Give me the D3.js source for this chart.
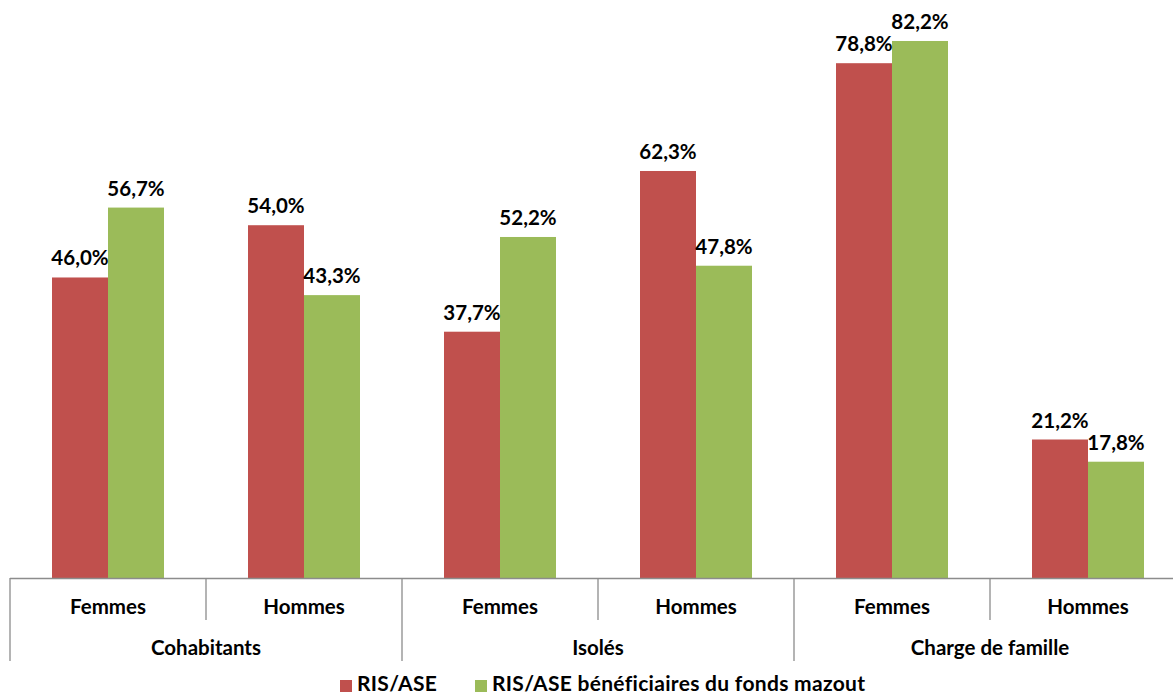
<!DOCTYPE html>
<html><head><meta charset="utf-8">
<script src="https://cdn.jsdelivr.net/npm/d3@7"></script>
<style>body{margin:0;background:#fff;} svg{display:block;}</style>
</head><body>
<svg id="c" width="1173" height="696"></svg>
<script>
const groups = ["Cohabitants", "Isolés", "Charge de famille"];
const subs = ["Femmes", "Hommes"];
const seriesNames = ["RIS/ASE", "RIS/ASE bénéficiaires du fonds mazout"];
const risAse = [46.0, 54.0, 37.7, 62.3, 78.8, 21.2];
const mazout = [56.7, 43.3, 52.2, 47.8, 82.2, 17.8];
const colors = ["#C0504D", "#9BBB59"];

const svg = d3.select("#c");
const font = "Lato, 'Open Sans', sans-serif";
const fw = "bold";
const fs = 20.5;
const base = 578;
const x0 = d3.scaleBand().domain(groups).range([10, 1186]);
const x1 = d3.scaleBand().domain(subs).range([0, x0.bandwidth()]);
const x2 = d3.scaleBand().domain([0, 1]).range([0, x1.bandwidth()]).paddingInner(0).paddingOuter(0.75);
const y = d3.scaleLinear().domain([0, 90]).range([base, base - 90 * 6.533]);

const rows = [];
groups.forEach((g, gi) => subs.forEach((s, si) => {
  const i = gi * 2 + si;
  [risAse[i], mazout[i]].forEach((v, k) => rows.push({g, s, k, v}));
}));

const bx = d => x0(d.g) + x1(d.s) + x2(d.k);
svg.selectAll("rect.bar").data(rows).join("rect").attr("class", "bar")
  .attr("x", bx).attr("width", x2.bandwidth())
  .attr("y", d => y(d.v)).attr("height", d => base - y(d.v))
  .attr("fill", d => colors[d.k]);

svg.selectAll("text.lbl").data(rows).join("text").attr("class", "lbl")
  .attr("x", d => bx(d) + x2.bandwidth() / 2).attr("y", d => y(d.v) - 12)
  .attr("text-anchor", "middle").attr("font-family", font).attr("font-weight", fw)
  .attr("font-size", fs).attr("fill", "#000")
  .text(d => d.v.toFixed(1).replace(".", ",") + "%");

const axisColor = "#8c8c8c";
svg.append("line").attr("x1", 10).attr("x2", 1186).attr("y1", base + 0.5).attr("y2", base + 0.5)
  .attr("stroke", axisColor).attr("stroke-width", 1.3);

const subTicks = [];
groups.forEach(g => subTicks.push(x0(g) + x1("Hommes")));
svg.selectAll("line.st").data(subTicks).join("line").attr("class", "st")
  .attr("x1", d => d).attr("x2", d => d).attr("y1", base).attr("y2", 620)
  .attr("stroke", axisColor).attr("stroke-width", 1.3);
const grpTicks = groups.map(g => x0(g)).concat([x0.range()[1]]);
svg.selectAll("line.gt").data(grpTicks).join("line").attr("class", "gt")
  .attr("x1", d => d).attr("x2", d => d).attr("y1", base).attr("y2", 661)
  .attr("stroke", axisColor).attr("stroke-width", 1.3);

const subLabels = [];
groups.forEach(g => subs.forEach(s => subLabels.push({g, s})));
svg.selectAll("text.sub").data(subLabels).join("text").attr("class", "sub")
  .attr("x", d => x0(d.g) + x1(d.s) + x1.bandwidth() / 2).attr("y", 614)
  .attr("text-anchor", "middle").attr("font-family", font).attr("font-weight", fw)
  .attr("font-size", fs).text(d => d.s);
svg.selectAll("text.grp").data(groups).join("text").attr("class", "grp")
  .attr("x", d => x0(d) + x0.bandwidth() / 2).attr("y", 655)
  .attr("text-anchor", "middle").attr("font-family", font).attr("font-weight", fw)
  .attr("font-size", fs).text(d => d);

const legX = [340, 475];
const leg = svg.selectAll("g.leg").data(seriesNames).join("g").attr("class", "leg")
  .attr("transform", (d, i) => `translate(${legX[i]},0)`);
leg.append("rect").attr("x", 0).attr("y", 680).attr("width", 12).attr("height", 12)
  .attr("fill", (d, i) => colors[i]);
leg.append("text").attr("x", 17).attr("y", 691).attr("font-family", font)
  .attr("font-weight", fw).attr("font-size", 21).attr("letter-spacing", 0.3).text(d => d);
</script>
</body></html>
